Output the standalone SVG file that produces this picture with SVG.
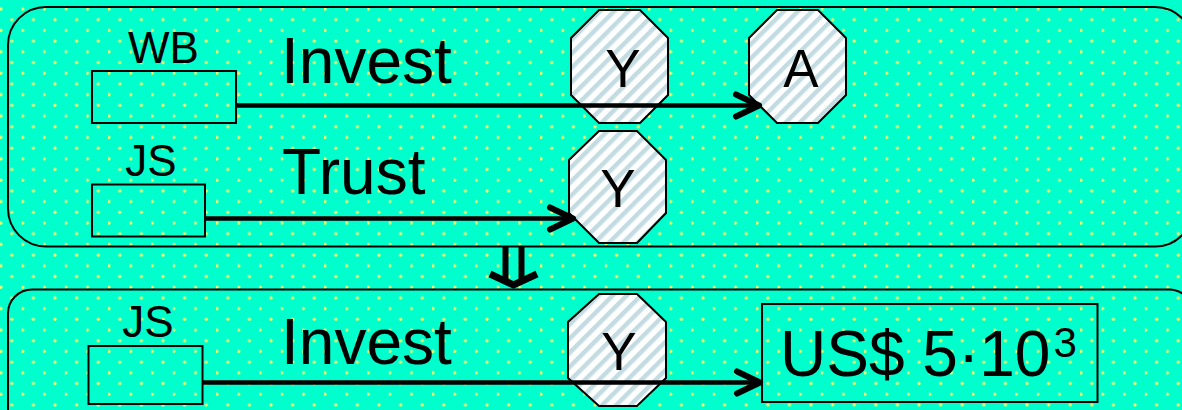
<svg xmlns="http://www.w3.org/2000/svg" width="1182" height="410" viewBox="0 0 1182 410">
<defs>
<pattern id="dots" patternUnits="userSpaceOnUse" width="21.6" height="21.4">
<rect width="21.6" height="21.4" fill="#00FFCC"/>
<circle cx="1" cy="9" r="1.6" fill="#EEFF70"/>
<circle cx="11.8" cy="19.7" r="1.6" fill="#EEFF70"/>
</pattern>
<pattern id="stripes" patternUnits="userSpaceOnUse" width="10" height="10" patternTransform="rotate(45)">
<rect width="10" height="10" fill="#FFFFFF"/>
<rect width="4.5" height="10" fill="#C3DCE2"/>
</pattern>
<marker id="arr" markerUnits="userSpaceOnUse" markerWidth="40" markerHeight="40" viewBox="-30 -20 40 40" refX="0" refY="0" orient="auto">
<path d="M-23,-11 L0,0 L-23,11" fill="none" stroke="#000" stroke-width="6" stroke-linecap="round" stroke-linejoin="round"/>
</marker>
</defs>
<style>
.frame{fill:none;stroke:#000;stroke-width:2}
.box{fill:none;stroke:#000;stroke-width:2}
.oct{fill:url(#stripes);stroke:#000;stroke-width:2}
.lbl{font-family:"Liberation Sans",Arial,sans-serif;font-size:44px;fill:#000;text-anchor:middle}
.rel{font-family:"Liberation Sans",Arial,sans-serif;font-size:64px;fill:#000}
.ol{font-family:"Liberation Sans",Arial,sans-serif;font-size:53px;fill:#000;text-anchor:middle}
.conn{stroke:#000;stroke-width:4.5;fill:none}
</style>
<rect x="0" y="0" width="1182" height="410" fill="url(#dots)"/>
<g id="frame-top"><rect class="frame" x="8" y="7" width="1185" height="239.5" rx="38" ry="38"/></g>
<g id="frame-bottom"><rect class="frame" x="8" y="289.5" width="1185" height="160" rx="24" ry="24"/></g>

<g id="wb">
<rect class="box" x="92" y="71" width="144" height="52"/>
<text class="lbl" x="163.5" y="63">WB</text>
</g>
<g id="js-top">
<rect class="box" x="92" y="184.5" width="113" height="52"/>
<text class="lbl" x="151" y="176">JS</text>
</g>
<g id="js-bottom">
<rect class="box" x="88.5" y="346" width="114" height="58"/>
<text class="lbl" x="148" y="337">JS</text>
</g>

<g id="y-top">
<polygon class="oct" points="599,10 640,10 668,38 668,95 640,123 599,123 571,95 571,38"/>
<text class="ol" x="623" y="87">Y</text>
</g>
<g id="a">
<polygon class="oct" points="777,10 818,10 846,38 846,95 818,123 777,123 749,95 749,38"/>
<text class="ol" x="801" y="87">A</text>
</g>
<g id="y-mid">
<polygon class="oct" points="599,131 637,131 666,160 666,213 637,243 599,243 569,213 569,160"/>
<text class="ol" x="618" y="207">Y</text>
</g>
<g id="y-bottom">
<polygon class="oct" points="599,294 637,294 666,322 666,378 637,406 599,406 568,378 568,322"/>
<text class="ol" x="619" y="370">Y</text>
</g>
<g id="usd">
<rect class="box" x="762" y="304" width="335.5" height="98"/>
<text class="rel" x="780" y="376">US$ 5·10<tspan font-size="42" dx="3" dy="-19">3</tspan></text>
</g>

<g id="connectors">
<line class="conn" x1="236" y1="105.5" x2="759" y2="105.5" marker-end="url(#arr)"/>
<line class="conn" x1="205" y1="218.5" x2="573" y2="218.5" marker-end="url(#arr)"/>
<line class="conn" x1="202.5" y1="382.5" x2="760" y2="382.5" marker-end="url(#arr)"/>
<g id="implies">
<line x1="505.5" y1="246" x2="505.5" y2="281" stroke="#000" stroke-width="6"/>
<line x1="521.5" y1="246" x2="521.5" y2="281" stroke="#000" stroke-width="6"/>
<polyline points="490,274 513.5,285 537,274" fill="none" stroke="#000" stroke-width="7" stroke-linejoin="miter"/>
</g>
</g>

<text class="rel" x="281" y="83">Invest</text>
<text class="rel" x="282" y="194">Trust</text>
<text class="rel" x="281" y="364">Invest</text>
</svg>
